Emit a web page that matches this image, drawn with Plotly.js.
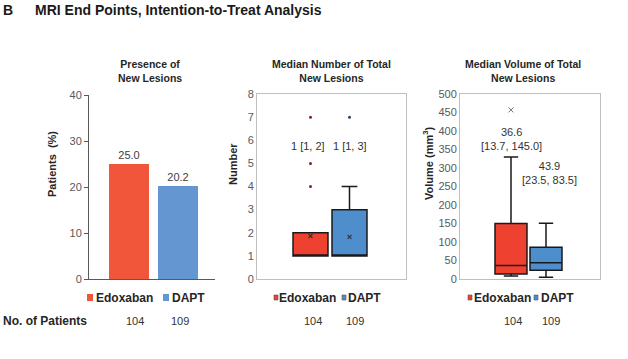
<!DOCTYPE html>
<html><head><meta charset="utf-8">
<script src="https://cdn.plot.ly/plotly-3.0.1.min.js"></script>
<style>html,body{margin:0;padding:0;background:#fff}#chart{width:628px;height:359px}</style>
</head><body><div id="chart"></div>
<script>
// ---- data ----
const groups = ['Edoxaban', 'DAPT'];
const presencePct = [25.0, 20.2];
const nPatients = [104, 109];

// Number of total new lesions (box statistics)
const numLower = [1, 1];
const numQ1 = [1, 1];
const numMedian = [1, 1];
const numQ3 = [2, 3];
const numUpper = [2, 4];
const numMean = [1.86, 1.82];
const numOutEdox = [4, 5, 7];
const numOutDapt = [7];
const numLabelMedian = [1, 1];
const numLabelQ1 = [1, 1];
const numLabelQ3 = [2, 3];

// Volume of total new lesions (mm3)
const volLower = [8, 5];
const volQ1 = [13.7, 23.5];
const volMedian = [36.6, 43.9];
const volQ3 = [150, 86];
const volUpper = [330, 151];
const volOutEdox = [457];
const volLabelMedian = ['36.6', '43.9'];
const volLabelQ1 = ['13.7', '23.5'];
const volLabelQ3 = ['145.0', '83.5'];

// ---- styles ----
const FONT = 'Liberation Sans, Arial, Helvetica, sans-serif';
const barColors = ['#F1563B', '#6497D1'];
const boxColors = ['#EF4130', '#4F8ECC'];
const outColors = ['#8B1E1E', '#2B3F66'];
const W = 628, H = 359;
const px = v => v / W;
const py = v => 1 - v / H;

const traces = [];
groups.forEach((g, i) => {
  traces.push({
    type: 'bar', x: [g], y: [presencePct[i]], name: g,
    marker: {color: barColors[i]}, width: 0.816,
    text: [presencePct[i].toFixed(1)], textposition: 'outside', cliponaxis: false,
    textfont: {size: 11, color: '#404040', family: FONT},
    xaxis: 'x', yaxis: 'y', showlegend: false
  });
});
groups.forEach((g, i) => {
  traces.push({
    type: 'box', x: [g], q1: [numQ1[i]], median: [numMedian[i]], q3: [numQ3[i]],
    lowerfence: [numLower[i]], upperfence: [numUpper[i]], name: g,
    fillcolor: boxColors[i], line: {color: '#1a1a1a', width: 1.5},
    width: 0.897, whiskerwidth: 0.45, boxpoints: false,
    xaxis: 'x2', yaxis: 'y2', showlegend: false
  });
});
traces.push({type: 'scatter', mode: 'markers', x: numOutEdox.map(() => groups[0]), y: numOutEdox,
  marker: {size: 3, color: outColors[0]}, xaxis: 'x2', yaxis: 'y2', showlegend: false});
traces.push({type: 'scatter', mode: 'markers', x: numOutDapt.map(() => groups[1]), y: numOutDapt,
  marker: {size: 3, color: outColors[1]}, xaxis: 'x2', yaxis: 'y2', showlegend: false});
traces.push({type: 'scatter', mode: 'markers', x: groups, y: numMean,
  marker: {size: 4, symbol: 'x-thin', line: {width: 1.2, color: '#333'}, color: '#333'},
  xaxis: 'x2', yaxis: 'y2', showlegend: false});

groups.forEach((g, i) => {
  traces.push({
    type: 'box', x: [g], q1: [volQ1[i]], median: [volMedian[i]], q3: [volQ3[i]],
    lowerfence: [volLower[i]], upperfence: [volUpper[i]], name: g,
    fillcolor: boxColors[i], line: {color: '#1a1a1a', width: 1.5},
    width: 0.914, whiskerwidth: 0.45, boxpoints: false,
    xaxis: 'x3', yaxis: 'y3', showlegend: false
  });
});
traces.push({type: 'scatter', mode: 'markers', x: volOutEdox.map(() => groups[0]), y: volOutEdox,
  marker: {size: 5, symbol: 'x-thin', line: {width: 1, color: '#777'}, color: '#777'},
  xaxis: 'x3', yaxis: 'y3', showlegend: false});

const tickFont = {size: 11, color: '#595959', family: FONT};
const baseX = {type: 'category', showticklabels: false, ticks: '', showgrid: false, zeroline: false, fixedrange: true};
const baseY = {showgrid: false, zeroline: false, fixedrange: true, tickfont: tickFont};

const ann = [];
const shapes = [];
// panel titles
[['Presence of<br>New Lesions', 150], ['Median Number of Total<br>New Lesions', 331], ['Median Volume of Total<br>New Lesions', 523]]
  .forEach(([t, x]) => ann.push({xref: 'paper', yref: 'paper', x: px(x), y: py(71), text: '<b>' + t + '</b>',
    showarrow: false, xanchor: 'center', yanchor: 'middle', font: {size: 10.5, color: '#262626', family: FONT}}));
// y-axis titles
[['Patients  (%)', 52], ['Number', 233], ['Volume (mm<sup>3</sup>)', 428]]
  .forEach(([t, x]) => ann.push({xref: 'paper', yref: 'paper', x: px(x), y: py(164), text: '<b>' + t + '</b>',
    textangle: -90, showarrow: false, xanchor: 'center', yanchor: 'middle', font: {size: 11, color: '#262626', family: FONT}}));
// box labels
groups.forEach((g, i) => {
  ann.push({xref: 'x2', yref: 'y2', x: g, y: 5.75, text: numLabelMedian[i] + ' [' + numLabelQ1[i] + ', ' + numLabelQ3[i] + ']',
    showarrow: false, xshift: i === 0 ? -3 : 0, font: {size: 11, color: '#333', family: FONT}});
});
ann.push({xref: 'x3', yref: 'y3', x: groups[0], y: 378, text: volLabelMedian[0] + '<br>[' + volLabelQ1[0] + ', ' + volLabelQ3[0] + ']',
  showarrow: false, xshift: 1, font: {size: 11, color: '#333', family: FONT}});
ann.push({xref: 'x3', yref: 'y3', x: groups[1], y: 286, text: volLabelMedian[1] + '<br>[' + volLabelQ1[1] + ', ' + volLabelQ3[1] + ']',
  showarrow: false, xshift: 3, font: {size: 11, color: '#333', family: FONT}});
// legends: [swatch left, swatch size, text left] per item
const legendItems = [
  {cols: barColors, items: [[87, 6, 96], [163, 6, 172]], edge: false},
  {cols: boxColors, items: [[274, 4, 279], [342, 4, 347.5]], edge: true},
  {cols: boxColors, items: [[468, 4, 473.5], [534, 4, 541]], edge: true}
];
const LY = 297.5;
legendItems.forEach(lg => {
  lg.items.forEach(([sx, s, tx], i) => {
    shapes.push({type: 'rect', xref: 'paper', yref: 'paper', x0: px(sx), x1: px(sx + s), y0: py(LY + s / 2 + 0.5), y1: py(LY - s / 2 - 0.5),
      fillcolor: lg.cols[i], line: {width: lg.edge ? 0.6 : 0, color: '#555'}});
    ann.push({xref: 'paper', yref: 'paper', x: px(tx), y: py(LY), xanchor: 'left', yanchor: 'middle',
      text: '<b>' + groups[i] + '</b>', showarrow: false, xshift: -2,
      font: {size: 12, color: '#262626', family: FONT}});
  });
});
// patients row
ann.push({xref: 'paper', yref: 'paper', x: px(3), y: py(321), xanchor: 'left', yanchor: 'middle', text: '<b>No. of Patients</b>',
  showarrow: false, xshift: -2, font: {size: 12, color: '#262626', family: FONT}});
[[135, 180], [313, 355], [513, 551]].forEach(pair => pair.forEach((x, i) => ann.push({xref: 'paper', yref: 'paper', x: px(x), y: py(321),
  xanchor: 'center', yanchor: 'middle', text: String(nPatients[i]), showarrow: false, font: {size: 11, color: '#333', family: FONT}})));
// panel letter
ann.push({xref: 'paper', yref: 'paper', x: px(3), y: py(10), xanchor: 'left', yanchor: 'middle', text: '<b>B</b>',
  showarrow: false, xshift: -2, font: {size: 14, color: '#1a1a1a', family: FONT}});

const layout = {
  width: W, height: H, margin: {l: 0, r: 0, t: 0, b: 0},
  paper_bgcolor: '#fff', plot_bgcolor: 'rgba(0,0,0,0)',
  font: {family: FONT}, showlegend: false, barmode: 'overlay', boxmode: 'overlay',
  title: {text: '<b>MRI End Points, Intention-to-Treat Analysis</b>', x: px(35), xanchor: 'left', y: py(10), yanchor: 'middle',
    xref: 'paper', yref: 'paper', font: {size: 14, color: '#1a1a1a', family: FONT}},
  xaxis: Object.assign({}, baseX, {domain: [px(89), px(215)], anchor: 'y', range: [-0.816, 1.755], showline: true, linecolor: '#595959', linewidth: 1}),
  yaxis: Object.assign({}, baseY, {domain: [py(279), py(95)], anchor: 'x', range: [0, 40], dtick: 10, ticks: 'outside', ticklen: 4,
    tickcolor: '#595959', showline: true, linecolor: '#595959', linewidth: 1}),
  xaxis2: Object.assign({}, baseX, {domain: [px(257), px(406)], anchor: 'y2', range: [-1.372, 2.449], showline: true, mirror: true, linecolor: '#BFBFBF'}),
  yaxis2: Object.assign({}, baseY, {domain: [py(279), py(94)], anchor: 'x2', range: [0, 8], dtick: 1, ticks: '', showline: true, mirror: true, linecolor: '#BFBFBF'}),
  xaxis3: Object.assign({}, baseX, {domain: [px(460), px(600)], anchor: 'y3', range: [-1.457, 2.543], showline: true, mirror: true, linecolor: '#BFBFBF'}),
  yaxis3: Object.assign({}, baseY, {domain: [py(279), py(94)], anchor: 'x3', range: [0, 500], dtick: 50, ticks: '', showline: true, mirror: true, linecolor: '#BFBFBF'}),
  annotations: ann,
  shapes: shapes
};
Plotly.newPlot('chart', traces, layout, {staticPlot: true, displayModeBar: false});
</script></body></html>
